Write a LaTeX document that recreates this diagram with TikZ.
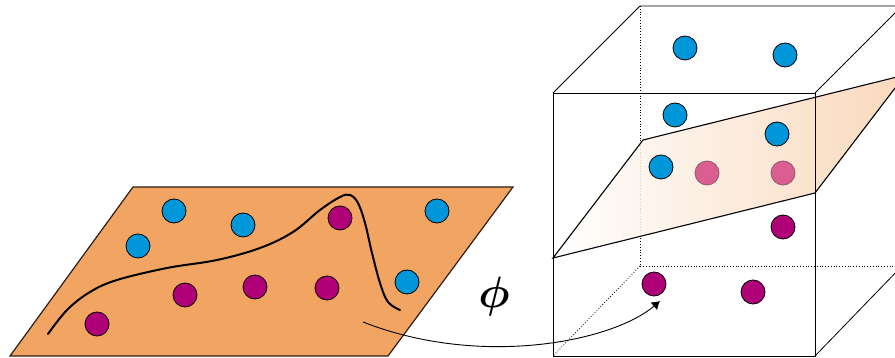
\documentclass[tikz,border=0pt]{standalone}
\usepackage{bm}
\usetikzlibrary{arrows.meta}
\definecolor{orng}{RGB}{242,164,98}
\definecolor{planeedge}{RGB}{45,30,20}
\definecolor{dotblue}{RGB}{0,150,218}
\definecolor{dotmag}{RGB}{176,0,120}
\definecolor{dotpink}{RGB}{218,94,144}
\definecolor{pinkedge}{RGB}{150,85,110}
\definecolor{peach}{RGB}{248,210,176}
\begin{document}
\begin{tikzpicture}[x=1pt,y=-1pt,
  dot/.style={circle, draw=black, line width=0.8pt, minimum size=24pt, inner sep=0pt},
  bdot/.style={dot, fill=dotblue},
  mdot/.style={dot, fill=dotmag},
  pdot/.style={dot, fill=dotpink, draw=pinkedge},
  edge/.style={line width=0.8pt, black},
  hidden/.style={line width=0.8pt, black, dotted}]
\useasboundingbox (0,0) rectangle (895,358);
\clip (0,0) rectangle (895,358);

% ---------- left plane ----------
\draw[fill=orng, draw=planeedge, line width=1.2pt, line join=miter]
  (133,187) -- (513,187) -- (388,356) -- (10,356) -- cycle;
\draw[line width=2pt, line cap=round] plot[smooth, tension=0.6] coordinates {
  (48,334) (67,310) (90,292) (117,280) (167,268) (217,260) (260,248)
  (293,232) (320,210) (340,197) (350,195) (358,203) (365,223)
  (372,253) (380,283) (388,302) (400,310)};
\node[bdot] (l1) at (174,211) {};
\node[bdot] (l2) at (243,225) {};
\node[bdot] (l3) at (138,246) {};
\node[bdot] (l4) at (437,211) {};
\node[bdot] (l5) at (407,282) {};
\node[mdot] (l6) at (340,218) {};
\node[mdot] (l7) at (185,295) {};
\node[mdot] (l8) at (255,287) {};
\node[mdot] (l9) at (327,288) {};
\node[mdot] (l10) at (97,324) {};

% ---------- phi ----------
\node[scale=4.4] (phi) at (494,297) {$\bm{\phi}$};

% ---------- cube ----------
\coordinate (ftl) at (553,93);
\coordinate (ftr) at (815,93);
\coordinate (fbl) at (553,356);
\coordinate (fbr) at (815,356);
\coordinate (btl) at (640,6);
\coordinate (btr) at (902,6);
\coordinate (bbl) at (640,266);
\coordinate (bbr) at (902,266);
\draw[hidden] (btl) -- (bbl) -- (bbr);
\draw[hidden] (bbl) -- (fbl);

% plane inside cube
\coordinate (p1) at (553,258);
\coordinate (p2) at (643,140);
\coordinate (p3) at (905,75);
\coordinate (p4) at (815,193);
\shade[left color=white, right color=peach, fill opacity=0.85]
  (p1) -- (p2) -- (p3) -- (p4) -- cycle;

\node[pdot] (c6) at (707,173) {};
\node[pdot] (c7) at (783,173) {};

\draw[edge] (ftl) rectangle (fbr);
\draw[edge] (ftl) -- (btl) -- (btr) -- (ftr);
\draw[edge] (fbr) -- (bbr);
\draw[line width=1.1pt, black] (p1) -- (p2) -- (p3) -- (p4) -- cycle;

\node[bdot] (c1) at (685,48) {};
\node[bdot] (c2) at (785,55) {};
\node[bdot] (c3) at (675,115) {};
\node[bdot] (c4) at (777,134) {};
\node[bdot] (c5) at (661,167) {};
\node[mdot] (c8) at (783,227) {};
\node[mdot] (c9) at (654,284) {};
\node[mdot] (c10) at (753,292) {};

% ---------- mapping arrow ----------
\coordinate (as) at (363,322);
\coordinate (ae) at (660,301);
\draw[line width=0.9pt, -{Latex[length=8pt,width=10pt]}]
  (as) .. controls (480,368) and (612,342) .. (ae);
\end{tikzpicture}
\end{document}
